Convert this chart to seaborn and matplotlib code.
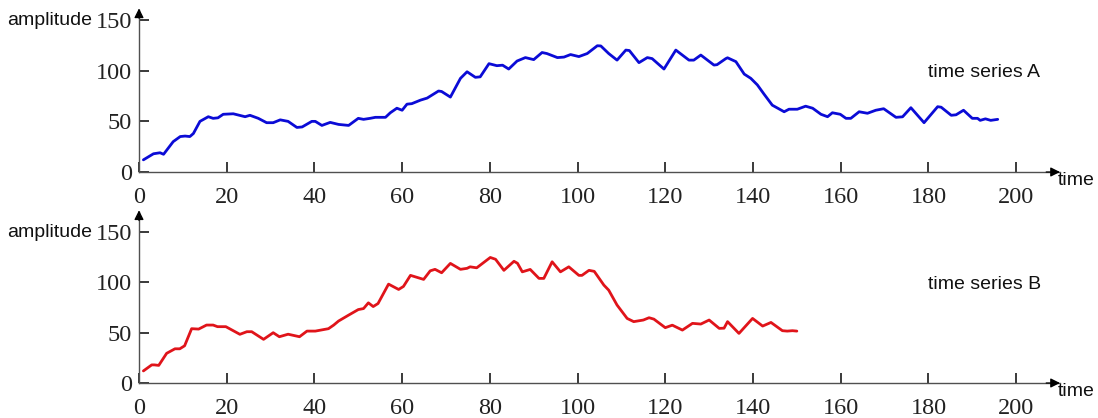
import matplotlib
matplotlib.use("Agg")
import matplotlib.pyplot as plt
import seaborn as sns
import pandas as pd

# ---- data ----
time_a = [1, 3.3, 4.8, 5.6, 7.8, 9.4, 10.5, 11.6, 12.4, 13.9, 15.8, 16.9, 18, 19.2, 21.5,
          24.2, 25.3, 27.2, 29.1, 30.6, 32.2, 34, 36, 37.2, 39.4, 40.2, 41.7, 43.6, 45.5,
          47.8, 50, 51.2, 52.7, 53.9, 56.2, 57.3, 58.8, 60, 61.1, 62.2, 64.2, 65.7, 68.3,
          69, 71, 73.3, 74.8, 76.7, 77.8, 79.8, 81.6, 82.9, 84.3, 86.2, 88.1, 90, 91.9,
          93, 95.4, 96.9, 98.4, 100.3, 102.2, 104.5, 105.3, 107.1, 109, 111, 111.8, 114,
          115.9, 117, 119.7, 122.4, 125.4, 126.5, 128.1, 131.1, 131.8, 133.8, 134.2,
          136.1, 138, 139.5, 141, 142.5, 144.4, 147.1, 148.2, 150.1, 152, 153.6, 155.5,
          157, 158.1, 159.9, 161.2, 162.3, 164.2, 166.1, 168, 169.8, 172.6, 174.1, 176,
          179, 182.1, 182.9, 185.2, 186.3, 188, 190, 191.2, 191.8, 193, 194.2, 195.8]
amp_a = [12, 18, 19, 17.5, 30, 35, 35.5, 35, 38, 50, 54.6, 53, 53.5, 57, 57.5,
         54.6, 56, 53, 48.7, 48.7, 51.5, 50, 44, 44.5, 50, 50, 46, 49, 47,
         46, 53, 52, 53, 54, 54, 58.5, 63, 61, 67, 67.5, 71, 73, 80,
         79.5, 74, 92.5, 99, 93.5, 94, 107, 105, 105.5, 101.7, 109.6, 113, 111, 118,
         117, 113, 113.5, 116, 114, 117, 124.7, 124.5, 117, 110.5, 120.4, 120, 108,
         113, 112, 101.7, 120.4, 110.5, 110.5, 115.5, 105.6, 106, 112, 112.8,
         109, 96.7, 92.5, 86, 77, 66, 59.5, 62, 62, 65, 63, 57,
         54.6, 58.5, 57, 53, 53, 59.5, 58, 61, 62.5, 54, 54.5, 63.5,
         48.7, 64.5, 64, 56, 56.5, 61, 53, 53, 51, 52.5, 51, 52]

time_b = [1, 2.9, 3.5, 4.5, 6.3, 8.2, 9.3, 10.4, 12, 13.6, 15.4, 16.9, 17.9, 19.8, 23,
          24.6, 25.7, 28.4, 30.6, 32, 34, 36.6, 38.3, 40.2, 43.2, 44.4, 45.5, 47.8, 50,
          51.2, 52.3, 53.4, 54.5, 56.9, 59.2, 60.3, 61.9, 64.9, 66.4, 67.5, 69, 71, 73.3,
          74.8, 75.5, 77, 80.1, 81.3, 83.2, 85.5, 86.3, 87.4, 89.2, 91.2, 92.3, 94.2,
          96.1, 98, 100.3, 101, 102.6, 103.8, 106, 107.1, 109, 111.3, 112.8, 115, 116.3,
          117.4, 120, 121.6, 123.9, 126.2, 128.1, 130, 132.3, 133.4, 134.2, 136.8,
          139.9, 142.2, 144.1, 146.7, 147.8, 149, 150]
amp_b = [12, 18, 18, 17.5, 29.5, 34, 34, 37, 54, 53.6, 57.6, 57.6, 56, 56, 48.4,
         51, 51, 43.4, 50, 46, 48.5, 46, 51.6, 51.6, 54, 57.6, 61.6, 67.5, 73,
         74, 79.7, 76, 79, 98.3, 93, 96, 107, 103, 111.5, 113, 109.6, 118.9, 113,
         114, 115.5, 114.5, 124.8, 123, 112, 121, 119, 110.5, 112.9, 104, 104, 120.5,
         110.5, 115.5, 107, 107, 112, 111, 97.3, 92.3, 77.5, 64.2, 61, 62.6, 64.9,
         63.5, 55, 57.5, 52.6, 59.3, 58.6, 62.6, 54.3, 54.5, 61, 49.3,
         64.2, 56.6, 60.2, 52, 51.6, 52, 51.6]

x_ticks = [0, 20, 40, 60, 80, 100, 120, 140, 160, 180, 200]
y_ticks = [0, 50, 100, 150]
labels = ["time series A", "time series B"]
colors = ["#0b0bd6", "#e0141a"]

sns.set_theme(style="ticks")
plt.rcParams["font.family"] = ["Liberation Sans", "DejaVu Sans"]

W, H = 1098, 418
fig = plt.figure(figsize=(W / 100, H / 100), dpi=100)

left = 139 / W
width = (1060 - 139) / W
axA = fig.add_axes([left, 1 - 172 / H, width, 162 / H])
axB = fig.add_axes([left, 1 - 383 / H, width, 171 / H])

sns.lineplot(x=time_a, y=amp_a, ax=axA, color=colors[0], lw=2.0, sort=False)
sns.lineplot(x=time_b, y=amp_b, ax=axB, color=colors[1], lw=2.0, sort=False)

for ax, ytop, lab in [(axA, 160, labels[0]), (axB, 170, labels[1])]:
    ax.set_xlim(0, 210)
    ax.set_ylim(0, ytop)
    ax.set_xticks(x_ticks)
    ax.set_yticks(y_ticks)
    ax.set_xlabel("")
    ax.set_ylabel("")
    for line in ax.get_lines():
        line.set_solid_joinstyle("round")
        line.set_solid_capstyle("round")
    for s in ["top", "right"]:
        ax.spines[s].set_visible(False)
    ax.tick_params(axis="both", which="major", direction="in", length=7, width=1.4,
                   color="#3a3a3a", labelcolor="#222222", labelsize=17.5)
    ax.tick_params(axis="x", pad=11, bottom=True, top=False)
    ax.tick_params(axis="y", pad=5, left=True, right=False)
    for t in ax.get_xticklabels() + ax.get_yticklabels():
        t.set_fontfamily("Liberation Serif")
    for s in ["left", "bottom"]:
        ax.spines[s].set_color("#505050")
        ax.spines[s].set_linewidth(1.0)
    ax.patch.set_alpha(0)
    # arrowheads
    ax.annotate("", xy=(0, 1.01), xycoords="axes fraction", xytext=(0, 0.95),
                textcoords="axes fraction",
                arrowprops=dict(arrowstyle="-|>", color="black", lw=0.9,
                                mutation_scale=14, shrinkA=0, shrinkB=0))
    ax.annotate("", xy=(1, 0), xycoords="axes fraction", xytext=(0.985, 0),
                textcoords="axes fraction",
                arrowprops=dict(arrowstyle="-|>", color="black", lw=0.9,
                                mutation_scale=14, shrinkA=0, shrinkB=0))
    ax.text(-10.7, 150, "amplitude", ha="right", va="center", fontsize=14,
            color="#111111", clip_on=False)
    ax.text(209.5, -8.5, "time", ha="left", va="center", fontsize=14,
            color="#111111", clip_on=False)
    ax.text(180, 98, lab, ha="left", va="center", fontsize=14, color="#111111")

fig.savefig("out.png", dpi=100)
